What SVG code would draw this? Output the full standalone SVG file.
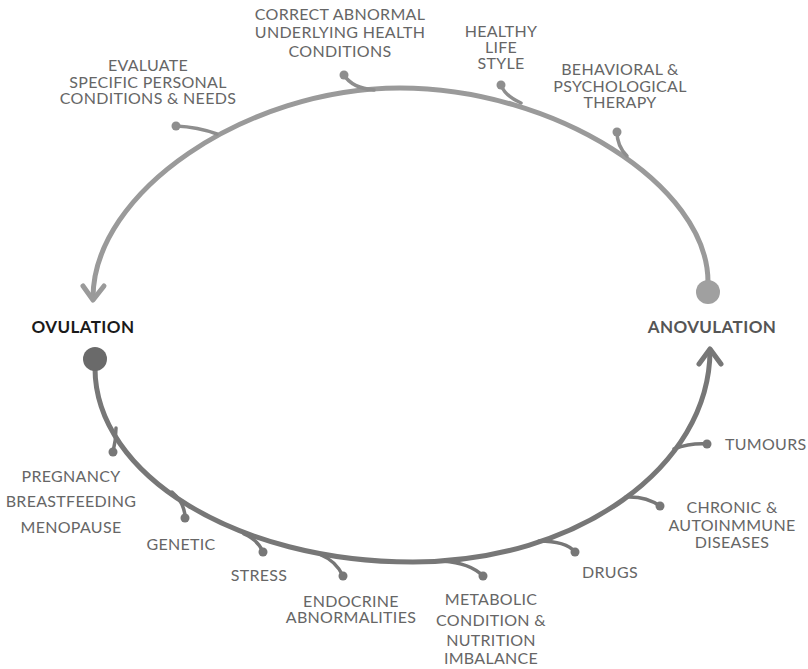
<svg xmlns="http://www.w3.org/2000/svg" width="808" height="669" viewBox="0 0 808 669">
<defs>
<style>
.t{font-family:Lato,"Open Sans","Liberation Sans",sans-serif;font-size:16px;letter-spacing:0.3px;fill:#666;text-anchor:middle}
.ts{text-anchor:start}
.lbl{font-family:Lato,"Open Sans","Liberation Sans",sans-serif;font-size:17px;font-weight:bold;letter-spacing:0.4px;text-anchor:middle}
.up{fill:none;stroke:#9a9a9a;stroke-width:5;stroke-linecap:round;stroke-linejoin:round}
.lo{fill:none;stroke:#777;stroke-width:5;stroke-linecap:round;stroke-linejoin:round}
.bu{fill:none;stroke:#8e8e8e;stroke-width:3.5;stroke-linecap:round}
.bl{fill:none;stroke:#777;stroke-width:3.5;stroke-linecap:round}
.du{fill:#8e8e8e}
.dl{fill:#777}
</style>
</defs>
<rect width="808" height="669" fill="#fff"/>
<g id="connectors">
<path class="up" d="M708 282 C708 185 554 88 400 88 C246 88 93 192 93 298"/>
<path class="up" d="M83 286 L93 300 L104 286"/>
<path class="lo" d="M95 368 C95 475 237 562 413 562 C577 562 710 467 710 350"/>
<path class="lo" d="M699 364 L710 349 L721 364"/>
</g>
<g id="ovulation">
<circle cx="95" cy="359" r="12" fill="#6a6a6a"/>
<text class="lbl" x="83" y="333" fill="#1a1a1a">OVULATION</text>
</g>
<g id="anovulation">
<circle cx="708" cy="292" r="12" fill="#a0a0a0"/>
<text class="lbl" x="712" y="333" fill="#555">ANOVULATION</text>
</g>
<g id="evaluate">
<path class="bu" d="M176 126 Q198 127 217 134"/>
<circle class="du" cx="176" cy="126" r="4.5"/>
<text class="t" x="148" y="71">EVALUATE</text>
<text class="t" x="148" y="88">SPECIFIC PERSONAL</text>
<text class="t" x="148" y="104">CONDITIONS &amp; NEEDS</text>
</g>
<g id="correct">
<path class="bu" d="M344 75 Q352 88 374 90"/>
<circle class="du" cx="344" cy="75" r="4.5"/>
<text class="t" x="340" y="20">CORRECT ABNORMAL</text>
<text class="t" x="340" y="38">UNDERLYING HEALTH</text>
<text class="t" x="340" y="57">CONDITIONS</text>
</g>
<g id="healthy">
<path class="bu" d="M501 85 Q505 96 521 103"/>
<circle class="du" cx="501" cy="85" r="4.5"/>
<text class="t" x="501" y="37">HEALTHY</text>
<text class="t" x="501" y="53">LIFE</text>
<text class="t" x="501" y="69">STYLE</text>
</g>
<g id="behavioral">
<path class="bu" d="M617 132 Q617 146 627 156"/>
<circle class="du" cx="617" cy="132" r="4.5"/>
<text class="t" x="620" y="75">BEHAVIORAL &amp;</text>
<text class="t" x="620" y="92">PSYCHOLOGICAL</text>
<text class="t" x="620" y="108">THERAPY</text>
</g>
<g id="pregnancy">
<path class="bl" d="M113 452 Q116 440 116 428"/>
<circle class="dl" cx="113" cy="452" r="4.5"/>
<text class="t" x="71" y="482">PREGNANCY</text>
<text class="t" x="71" y="507">BREASTFEEDING</text>
<text class="t" x="71" y="533">MENOPAUSE</text>
</g>
<g id="genetic">
<path class="bl" d="M185 518 Q185 503 172 492"/>
<circle class="dl" cx="185" cy="518" r="4.5"/>
<text class="t" x="181" y="550">GENETIC</text>
</g>
<g id="stress">
<path class="bl" d="M263 552 Q258 540 244 534"/>
<circle class="dl" cx="263" cy="552" r="4.5"/>
<text class="t" x="259" y="581">STRESS</text>
</g>
<g id="endocrine">
<path class="bl" d="M343 576 Q336 561 321 555"/>
<circle class="dl" cx="343" cy="576" r="4.5"/>
<text class="t" x="351" y="607">ENDOCRINE</text>
<text class="t" x="351" y="623">ABNORMALITIES</text>
</g>
<g id="metabolic">
<path class="bl" d="M483 576 Q470 563 443 561"/>
<circle class="dl" cx="483" cy="576" r="4.5"/>
<text class="t" x="491" y="605">METABOLIC</text>
<text class="t" x="491" y="626">CONDITION &amp;</text>
<text class="t" x="491" y="646">NUTRITION</text>
<text class="t" x="491" y="664">IMBALANCE</text>
</g>
<g id="drugs">
<path class="bl" d="M575 552 Q566 541 539 541"/>
<circle class="dl" cx="575" cy="552" r="4.5"/>
<text class="t" x="610" y="578">DRUGS</text>
</g>
<g id="chronic">
<path class="bl" d="M660 506 Q646 496 626 497"/>
<circle class="dl" cx="660" cy="506" r="4.5"/>
<text class="t" x="732" y="513">CHRONIC &amp;</text>
<text class="t" x="732" y="531">AUTOINMMUNE</text>
<text class="t" x="732" y="548">DISEASES</text>
</g>
<g id="tumours">
<path class="bl" d="M707 444 Q690 443 674 449"/>
<circle class="dl" cx="707" cy="444" r="4.5"/>
<text class="t ts" x="725" y="450">TUMOURS</text>
</g>
</svg>
